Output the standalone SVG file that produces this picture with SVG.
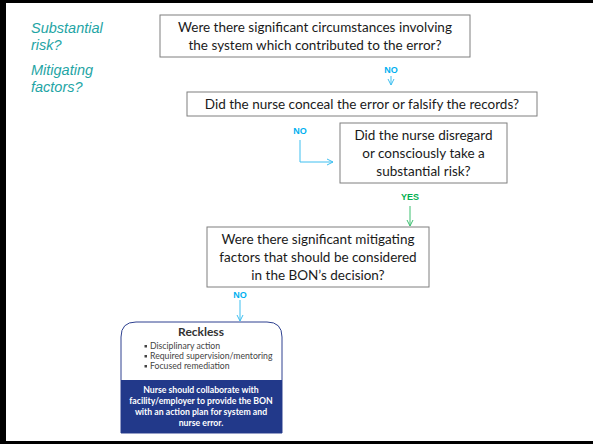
<svg xmlns="http://www.w3.org/2000/svg" width="593" height="444" viewBox="0 0 593 444">
<style>
.box{fill:#fff;stroke:#7f7f7f;stroke-width:1}
.q{font-family:Lato,"Liberation Sans",sans-serif;font-size:13.5px;fill:#1a1a1a;text-anchor:middle}
.side{font-family:"Liberation Sans",Arial,sans-serif;font-style:italic;font-size:14.5px;fill:#1fa5a5}
.no{font-family:"Liberation Sans",Arial,sans-serif;font-weight:bold;font-size:9px;fill:#00b0f0;text-anchor:middle}
.yes{font-family:"Liberation Sans",Arial,sans-serif;font-weight:bold;font-size:9px;fill:#00b050;text-anchor:middle}
.cb{stroke:#3fbff0;stroke-width:1;fill:none}
.cg{stroke:#3cc070;stroke-width:1;fill:none}
.rt{font-family:Lato,"Liberation Sans",sans-serif;font-weight:bold;font-size:12px;fill:#333;text-anchor:middle}
.bl{font-family:Lato,"Liberation Sans",sans-serif;font-size:8.7px;fill:#444}
.wt{font-family:Lato,"Liberation Sans",sans-serif;font-weight:bold;font-size:8.7px;fill:#fff;text-anchor:middle}
</style>
<defs>
<marker id="ab" viewBox="0 0 8 8" refX="7" refY="4" markerWidth="8" markerHeight="8" markerUnits="userSpaceOnUse" orient="auto"><path d="M1,1 L7,4 L1,7" fill="none" stroke="#3fbff0" stroke-width="1"/></marker>
<marker id="ag" viewBox="0 0 8 8" refX="7" refY="4" markerWidth="8" markerHeight="8" markerUnits="userSpaceOnUse" orient="auto"><path d="M1,1 L7,4 L1,7" fill="none" stroke="#3cc070" stroke-width="1"/></marker>
</defs>
<rect x="0" y="0" width="593" height="444" fill="#fff"/>
<rect x="0" y="0" width="593" height="3" fill="#000"/>
<rect x="0" y="0" width="6" height="444" fill="#000"/>
<rect x="0" y="441" width="593" height="3" fill="#000"/>

<g id="side-labels">
<text class="side" x="31" y="33">Substantial</text>
<text class="side" x="31" y="50">risk?</text>
<text class="side" x="31" y="75">Mitigating</text>
<text class="side" x="31" y="92">factors?</text>
</g>

<g id="q1">
<rect class="box" x="160" y="15" width="310" height="42"/>
<text class="q" x="315" y="32">Were there significant circumstances involving</text>
<text class="q" x="315" y="50">the system which contributed to the error?</text>
</g>

<g id="q2">
<rect class="box" x="187" y="92" width="350" height="24"/>
<text class="q" x="362" y="109">Did the nurse conceal the error or falsify the records?</text>
</g>

<g id="q3">
<rect class="box" x="340" y="123" width="167" height="60"/>
<text class="q" x="423.5" y="140">Did the nurse disregard</text>
<text class="q" x="423.5" y="158">or consciously take a</text>
<text class="q" x="423.5" y="176">substantial risk?</text>
</g>

<g id="q4">
<rect class="box" x="207" y="227" width="222" height="60"/>
<text class="q" x="318" y="244">Were there significant mitigating</text>
<text class="q" x="318" y="262">factors that should be considered</text>
<text class="q" x="318" y="280">in the BON’s decision?</text>
</g>

<g id="reckless">
<path d="M121,433 L121,337 Q121,322 136,322 L267,322 Q282,322 282,337 L282,433 Z" fill="#fff" stroke="#2e4190" stroke-width="1"/>
<rect x="121" y="380" width="161" height="53" fill="#22398a"/>
<text class="rt" x="201" y="336">Reckless</text>
<rect x="144.5" y="345" width="2.5" height="2.5" fill="#444"/>
<rect x="144.5" y="355" width="2.5" height="2.5" fill="#444"/>
<rect x="144.5" y="365" width="2.5" height="2.5" fill="#444"/>
<text class="bl" x="150" y="349">Disciplinary action</text>
<text class="bl" x="150" y="359">Required supervision/mentoring</text>
<text class="bl" x="150" y="369">Focused remediation</text>
<text class="wt" x="201" y="393">Nurse should collaborate with</text>
<text class="wt" x="201" y="404">facility/employer to provide the BON</text>
<text class="wt" x="201" y="415">with an action plan for system and</text>
<text class="wt" x="201" y="426">nurse error.</text>
</g>

<g id="connectors">
<text class="no" x="391" y="73">NO</text>
<line class="cb" x1="391" y1="76" x2="391" y2="85" marker-end="url(#ab)"/>
<text class="no" x="300" y="134">NO</text>
<polyline class="cb" points="300,140 300,162 333,162" marker-end="url(#ab)"/>
<text class="yes" x="410" y="200">YES</text>
<line class="cg" x1="410" y1="206" x2="410" y2="226" marker-end="url(#ag)"/>
<text class="no" x="240" y="298">NO</text>
<line class="cb" x1="240" y1="300" x2="240" y2="321" marker-end="url(#ab)"/>
</g>
</svg>
